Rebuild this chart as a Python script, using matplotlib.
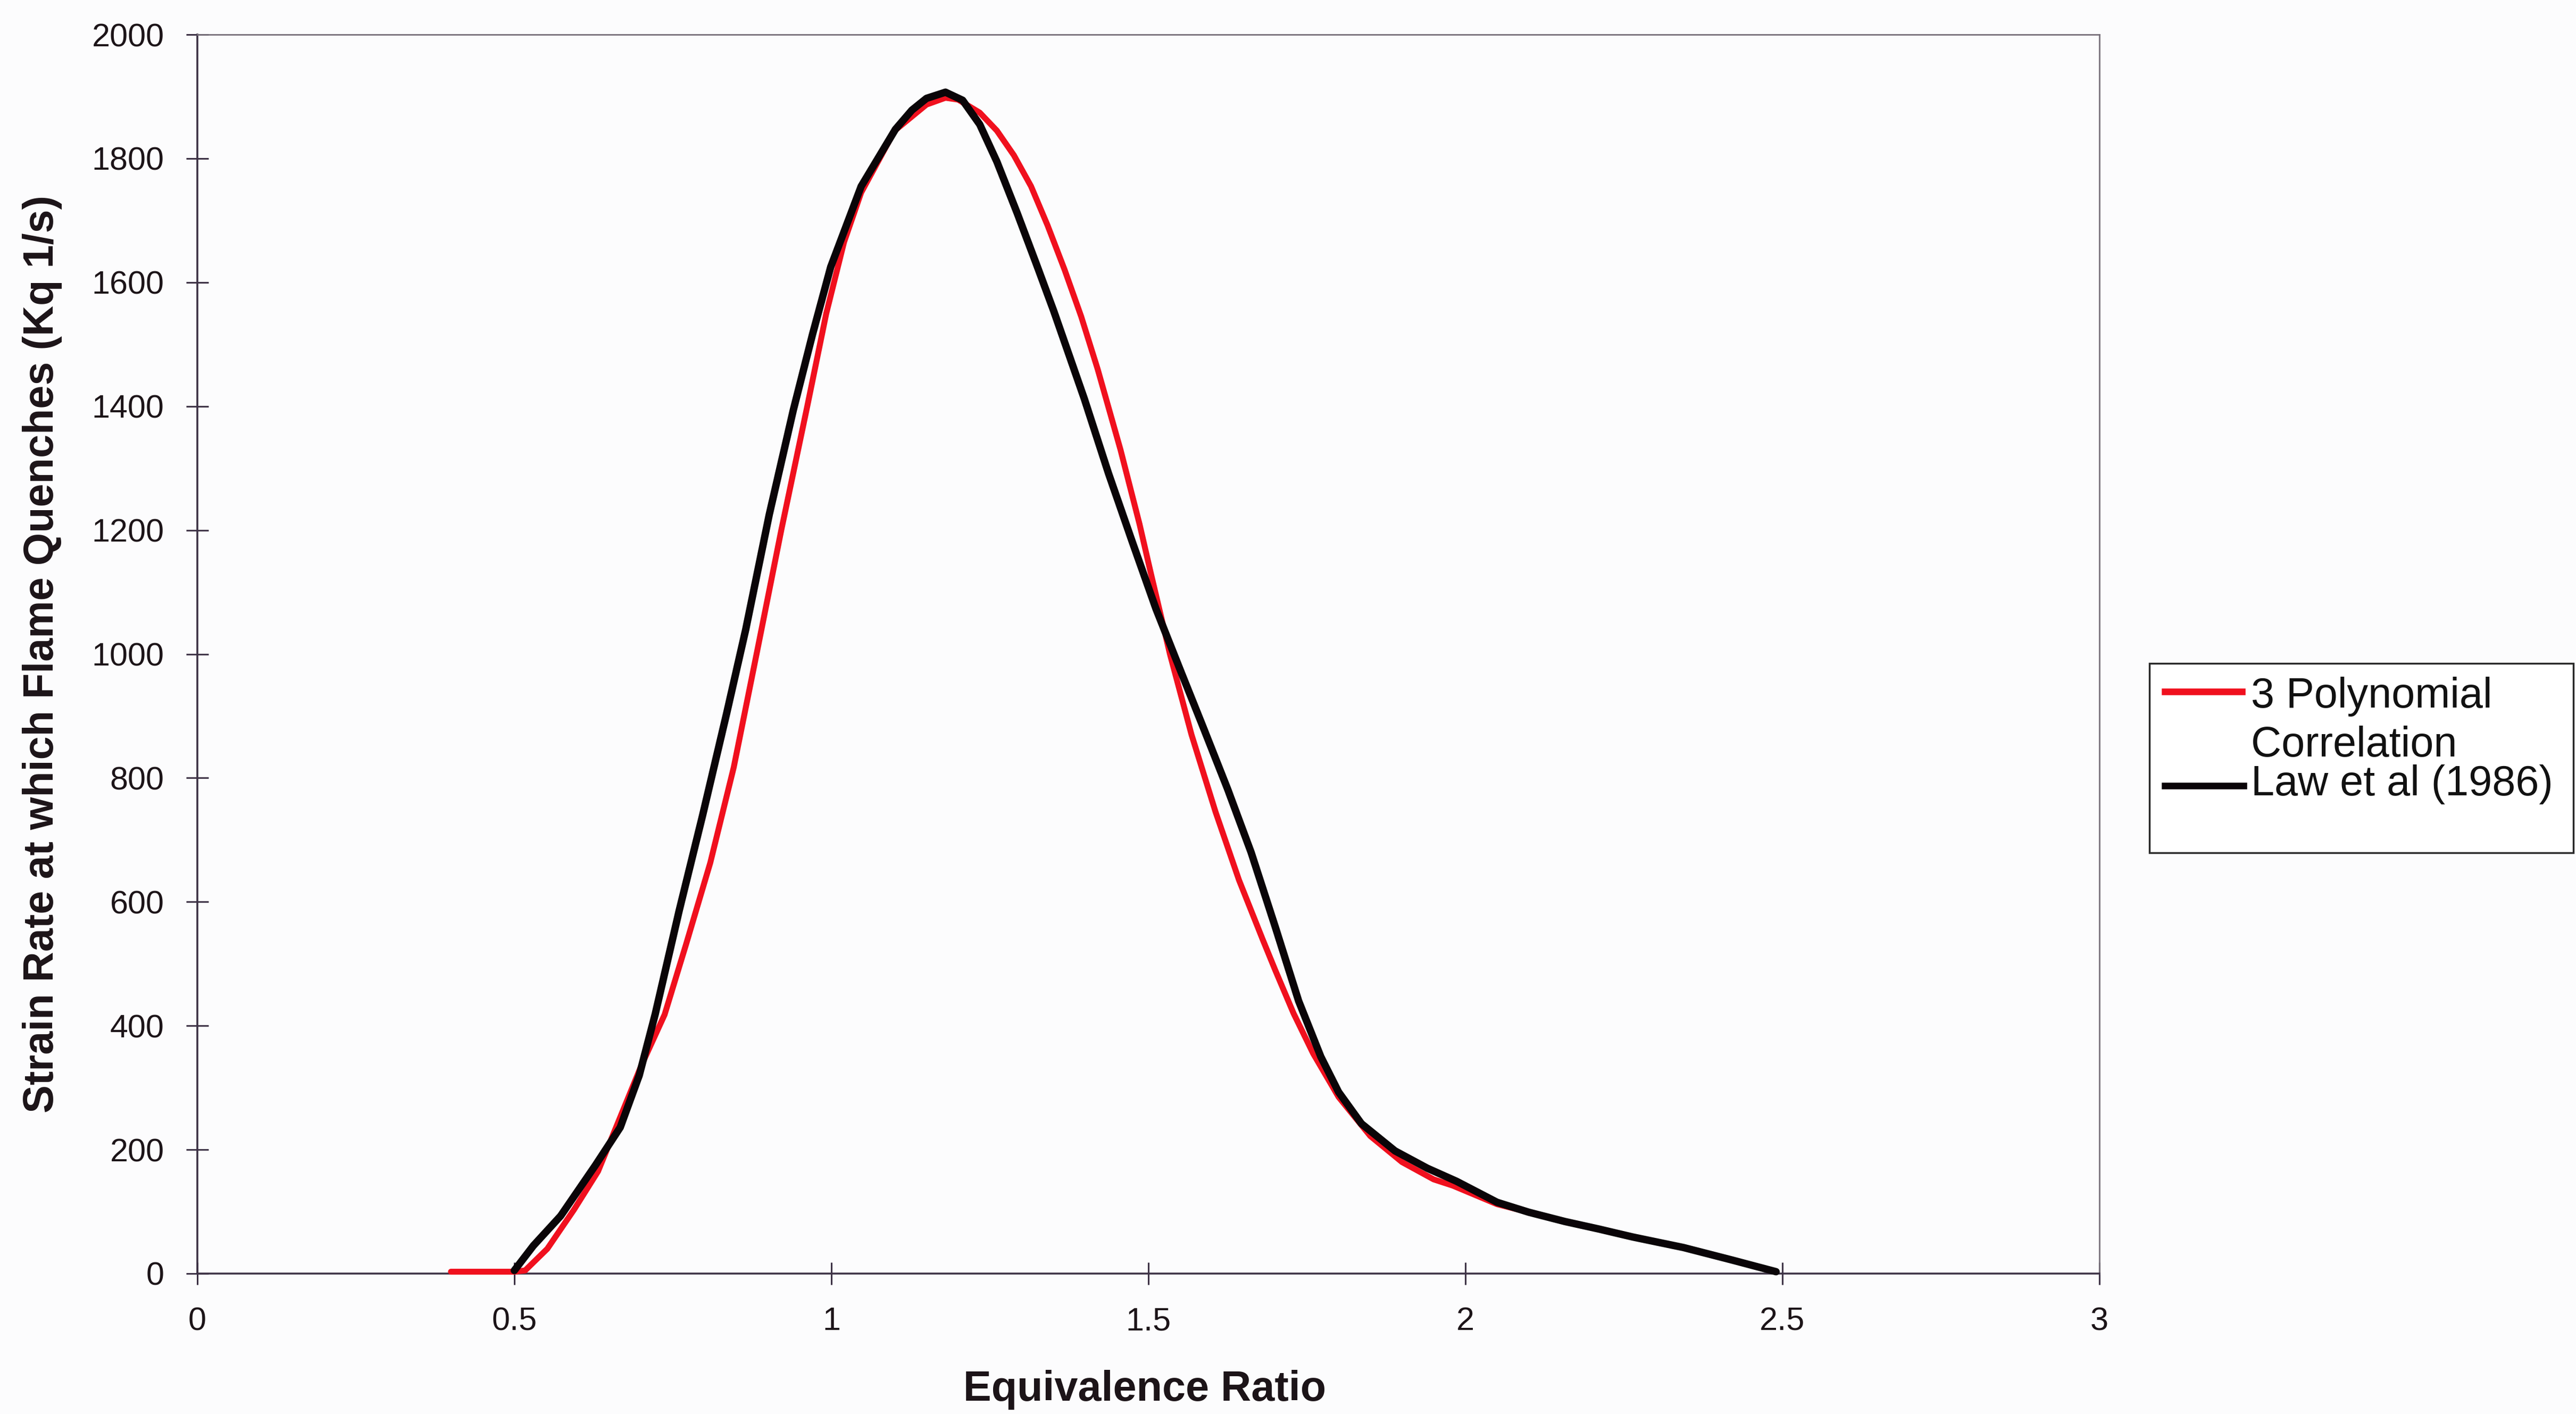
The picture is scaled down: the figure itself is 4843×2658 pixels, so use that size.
import matplotlib
matplotlib.use("Agg")
import matplotlib.pyplot as plt
from matplotlib.lines import Line2D
from matplotlib.patches import Rectangle

plt.rcParams['font.family'] = ['Liberation Sans', 'DejaVu Sans']

# ---- data ----
law_x = [0.50, 0.53, 0.573, 0.628, 0.667, 0.697, 0.722, 0.760, 0.797, 0.835, 0.865,
         0.902, 0.940, 0.970, 0.999, 1.047, 1.101, 1.127, 1.150, 1.180, 1.207, 1.234,
         1.261, 1.293, 1.325, 1.351, 1.399, 1.437, 1.475, 1.512, 1.550, 1.586, 1.625,
         1.662, 1.700, 1.737, 1.772, 1.800, 1.836, 1.889, 1.940, 1.986, 2.050, 2.100,
         2.157, 2.210, 2.264, 2.344, 2.420, 2.490]
law_y = [5, 45, 93, 175, 236, 320, 418, 586, 740, 905, 1040,
         1225, 1394, 1515, 1625, 1755, 1847, 1878, 1897, 1907, 1894, 1855,
         1795, 1712, 1625, 1553, 1412, 1292, 1180, 1073, 975, 883, 782,
         680, 560, 440, 350, 293, 242, 198, 170, 149, 115, 99,
         84, 72, 59, 42, 22, 3]

poly_x = [0.40, 0.45, 0.50, 0.517, 0.552, 0.594, 0.632, 0.678, 0.700, 0.737, 0.771,
          0.809, 0.846, 0.883, 0.921, 0.962, 0.992, 1.020, 1.047, 1.100, 1.150, 1.180,
          1.200, 1.234, 1.261, 1.288, 1.315, 1.341, 1.368, 1.394, 1.420, 1.456, 1.486,
          1.504, 1.534, 1.568, 1.606, 1.643, 1.680, 1.700, 1.729, 1.760, 1.800, 1.850,
          1.900, 1.950, 1.980, 2.050, 2.157, 2.264, 2.344, 2.490]
poly_y = [3, 3, 3, 5, 40, 103, 165, 280, 335, 418, 532,
          663, 817, 1005, 1200, 1400, 1550, 1665, 1745, 1845, 1887, 1898,
          1895, 1874, 1845, 1805, 1755, 1692, 1620, 1545, 1460, 1330, 1210,
          1130, 1000, 870, 745, 635, 540, 490, 420, 355, 285, 222,
          180, 152, 142, 112, 84, 59, 42, 3]

x_ticks = [0, 0.5, 1, 1.5, 2, 2.5, 3]
x_tick_labels = ['0', '0.5', '1', '1.5', '2', '2.5', '3']
y_ticks = list(range(0, 2001, 200))

W, H = 4843, 2658
DPI = 100
bg = '#fcfcfd'
fig = plt.figure(figsize=(W / DPI, H / DPI), dpi=DPI, facecolor=bg)
ax = fig.add_axes([371 / W, 1 - 2394 / H, (3947 - 371) / W, (2394 - 65) / H])
ax.set_facecolor(bg)

ax.plot(poly_x, poly_y, color='#f0101e', lw=8, solid_capstyle='round',
        solid_joinstyle='round', clip_on=False, zorder=3)
ax.plot(law_x, law_y, color='#0a0508', lw=10, solid_capstyle='round',
        solid_joinstyle='round', clip_on=False, zorder=4)

ax.set_xlim(0, 3)
ax.set_ylim(0, 2000)
ax.set_xticks(x_ticks)
ax.set_xticklabels(x_tick_labels)
ax.set_yticks(y_ticks)

axis_col = '#3e3346'
for side in ['left', 'bottom']:
    ax.spines[side].set_color(axis_col)
    ax.spines[side].set_linewidth(2.6)
for side in ['top', 'right']:
    ax.spines[side].set_color('#77707a')
    ax.spines[side].set_linewidth(2.0)

ax.tick_params(axis='both', direction='inout', length=30, width=2.2,
               color=axis_col, labelsize=44, labelcolor='#1c1418', pad=30)

ax.set_xlabel('Equivalence Ratio', fontsize=57, fontweight='bold',
              color='#1c1418', va='baseline')
ax.xaxis.set_label_coords(0.498, -(2633 - 2394) / (2394 - 65))
ax.set_ylabel('Strain Rate at which Flame Quenches (Kq 1/s)', fontsize=57,
              fontweight='bold', color='#1c1418', va='center', ha='center')
ax.yaxis.set_label_coords(-(371 - 80) / (3947 - 371), 0.5)

# ---- legend (drawn in figure pixel coordinates) ----
def fx(px):
    return px / W

def fy(py):
    return 1 - py / H

fig.patches.append(Rectangle((fx(4041), fy(1603)), fx(4838) - fx(4041), fy(1247) - fy(1603),
                             transform=fig.transFigure, facecolor='white',
                             edgecolor='#2a2a2a', lw=2.5, zorder=5))
fig.lines.append(Line2D([fx(4070), fx(4215)], [fy(1300), fy(1300)], transform=fig.transFigure,
                        color='#f0101e', lw=9, zorder=6))
fig.lines.append(Line2D([fx(4070), fx(4218)], [fy(1477), fy(1477)], transform=fig.transFigure,
                        color='#0a0508', lw=9, zorder=6))
fig.text(fx(4232), fy(1330), '3 Polynomial', fontsize=57, va='baseline', ha='left',
         color='#111111', zorder=7)
fig.text(fx(4232), fy(1422), 'Correlation', fontsize=57, va='baseline', ha='left',
         color='#111111', zorder=7)
fig.text(fx(4232), fy(1495), 'Law et al (1986)', fontsize=57, va='baseline', ha='left',
         color='#111111', zorder=7)

fig.savefig('out.png', dpi=DPI, facecolor=bg)
